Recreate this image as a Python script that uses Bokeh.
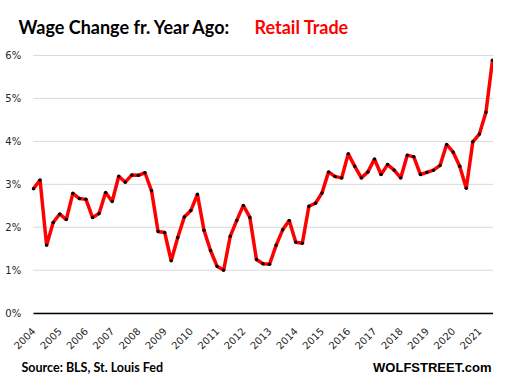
import math
from bokeh.plotting import figure
from bokeh.models import Range1d, FixedTicker, ColumnDataSource, LinearAxis, Label
from bokeh.embed import file_html
from bokeh.resources import INLINE

years = [str(y) for y in range(2004, 2022)]
quarters = [f"{y} Q{q}" for y in range(2004, 2022) for q in range(1, 5)][:71]
wage_change = [2.90, 3.10, 1.58, 2.11, 2.31, 2.18, 2.79, 2.67, 2.65, 2.23, 2.32, 2.81,
               2.60, 3.19, 3.05, 3.22, 3.21, 3.27, 2.85, 1.90, 1.88, 1.22,
               1.76, 2.24, 2.39, 2.77, 1.93, 1.46, 1.09, 1.00, 1.79, 2.16, 2.51, 2.23,
               1.25, 1.15, 1.14, 1.58, 1.94, 2.16, 1.65, 1.63, 2.49, 2.56, 2.80, 3.29,
               3.18, 3.15,
               3.71, 3.42, 3.15, 3.29, 3.59, 3.23, 3.46, 3.33, 3.15, 3.68, 3.64, 3.23,
               3.28, 3.33, 3.44, 3.93, 3.75, 3.42, 2.91, 3.99, 4.17, 4.68, 5.89]
y_ticks = [0, 1, 2, 3, 4, 5, 6]
title_main = "Wage Change fr. Year Ago:"
title_sub = "Retail Trade"
source_text = "Source: BLS, St. Louis Fed"
brand_text = "WOLFSTREET.com"

W, H = 493, 374
X0, X1 = -0.05, 70.15   # extent of the plotting area along x (category index)

x = list(range(len(wage_change)))
src = ColumnDataSource(dict(x=x, y=wage_change, q=quarters))
grid_src = ColumnDataSource(dict(x0=[X0] * len(y_ticks), x1=[X1] * len(y_ticks), y=y_ticks))

p = figure(width=W, height=H, output_backend="svg", toolbar_location=None,
           x_range=Range1d(-5.033, 70.153), y_range=Range1d(-1.429, 7.282),
           x_axis_location=None, y_axis_location=None, min_border=0)
p.outline_line_color = None
p.background_fill_color = "white"
p.border_fill_color = "white"
p.xgrid.visible = False
p.ygrid.visible = False

# horizontal gridlines at the tick values
p.segment(x0='x0', x1='x1', y0='y', y1='y', source=grid_src, line_color="#d9d9d9", line_width=1)

p.line('x', 'y', source=src, line_color="#ff0000", line_width=3.5)
p.scatter('x', 'y', source=src, size=3.5, fill_color="black", line_color=None)

xa = LinearAxis(fixed_location=0, bounds=(X0, X1))
xa.ticker = FixedTicker(ticks=[i * 4 for i in range(len(years))])
xa.major_label_overrides = {i * 4: years[i] for i in range(len(years))}
xa.major_label_orientation = math.pi / 4
xa.major_label_text_font = "DejaVu Sans"
xa.major_label_text_font_size = "10px"
xa.major_label_text_color = "#262626"
xa.axis_line_color = "black"
xa.axis_line_width = 1.5
xa.major_tick_line_color = None
xa.minor_tick_line_color = None
xa.major_tick_out = 0
xa.major_tick_in = 0
xa.minor_tick_out = 0
xa.minor_tick_in = 0
xa.major_label_standoff = 16
p.add_layout(xa, "below")

ya = LinearAxis(fixed_location=X0)
ya.ticker = FixedTicker(ticks=y_ticks)
ya.major_label_overrides = {t: f"{t}%" for t in y_ticks}
ya.major_label_text_font = "DejaVu Sans"
ya.major_label_text_font_size = "10px"
ya.major_label_text_color = "#262626"
ya.axis_line_color = None
ya.major_tick_line_color = None
ya.minor_tick_line_color = None
ya.major_tick_out = 0
ya.major_tick_in = 0
ya.minor_tick_out = 0
ya.minor_tick_in = 0
ya.major_label_standoff = 12
p.add_layout(ya, "left")

# texts: screen units measured from the frame's bottom-left (frame == whole canvas)
labels = [
    Label(x=18, y=H - 26.7, x_units="screen", y_units="screen", text=title_main,
          text_font="Lato", text_font_style="bold", text_font_size="18px",
          text_color="black", text_baseline="alphabetic"),
    Label(x=254, y=H - 26.7, x_units="screen", y_units="screen", text=title_sub,
          text_font="Lato", text_font_style="bold", text_font_size="18px",
          text_color="#ff0000", text_baseline="alphabetic"),
    Label(x=21, y=H - 367, x_units="screen", y_units="screen", text=source_text,
          text_font="Lato", text_font_style="bold", text_font_size="12.5px",
          text_color="black", text_baseline="alphabetic"),
    Label(x=491, y=H - 367, x_units="screen", y_units="screen", text=brand_text,
          text_font="Liberation Sans", text_font_style="bold", text_font_size="13px",
          text_color="black", text_baseline="alphabetic", text_align="right"),
]
for lab in labels:
    p.add_layout(lab)

open("out.html", "w").write(file_html(p, INLINE))
